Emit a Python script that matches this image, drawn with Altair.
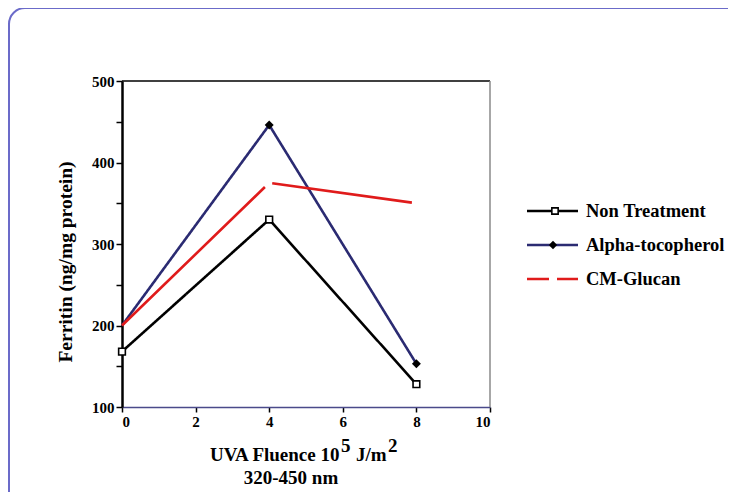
import altair as alt
import pandas as pd

series = ["Non Treatment", "Alpha-tocopherol", "CM-Glucan"]
fluence = [0, 4, 8]
non_treatment = [168, 330, 128]
alpha_toco = [200, 446, 153]
cm_glucan = [200, 375, 350]

x_ticks = list(range(0, 11))
y_ticks = [100, 150, 200, 250, 300, 350, 400, 450, 500]

colors = ["#000000", "#2b2b72", "#e01b1b"]
dashes = [[1, 0], [1, 0], [199, 9, 141, 40]]
legend_dashes = [[1, 0], [1, 0], [22, 8]]

rows = []
for name, vals in zip(series, [non_treatment, alpha_toco, cm_glucan]):
    for f, v in zip(fluence, vals):
        rows.append({"series": name, "fluence": f, "ferritin": v})
df = pd.DataFrame(rows)
one = pd.DataFrame({"a": [0]})

FONT = "'Liberation Serif', 'Times New Roman', serif"

xscale = alt.Scale(domain=[0, 10], nice=False, zero=False)
yscale = alt.Scale(domain=[100, 500], nice=False, zero=False)

xenc = alt.X(
    "fluence:Q", scale=xscale,
    axis=alt.Axis(
        values=x_ticks, labelExpr="datum.value % 2 === 0 ? datum.label : ''",
        labelFont=FONT, labelFontWeight="bold", labelFontSize=15, labelColor="black",
        tickColor="black", tickSize=5, tickWidth=1.5, domainColor="#4a4a8a",
        domainWidth=1.5, grid=False, title=None, labelPadding=2,
    ),
)
yenc = alt.Y(
    "ferritin:Q", scale=yscale,
    axis=alt.Axis(
        values=y_ticks, labelExpr="datum.value % 100 === 0 ? datum.label : ''",
        labelFont=FONT, labelFontWeight="bold", labelFontSize=15, labelColor="black",
        tickColor="black", tickSize=6, tickWidth=1.5, domainColor="black",
        domainWidth=2.5, grid=False, title=None, labelPadding=2,
    ),
)
xq = alt.X("fluence:Q", scale=xscale)
yq = alt.Y("ferritin:Q", scale=yscale)

border = alt.Chart(one).mark_rect(
    fillOpacity=0, stroke="#6b6bc9", strokeWidth=2, cornerRadius=16
).encode(x=alt.value(-113), x2=alt.value(640), y=alt.value(-73), y2=alt.value(450))

lines = alt.Chart(df).mark_line(strokeWidth=2.6).encode(
    x=xenc, y=yenc,
    color=alt.Color("series:N", scale=alt.Scale(domain=series, range=colors), legend=None),
    strokeDash=alt.StrokeDash("series:N", scale=alt.Scale(domain=series, range=dashes), legend=None),
    detail="series:N",
)

top_rule = alt.Chart(one).mark_rule(color="black", strokeWidth=1.5).encode(
    x=alt.XDatum(0, scale=xscale), x2=alt.X2Datum(10), y=alt.YDatum(500, scale=yscale))
right_rule = alt.Chart(one).mark_rule(color="#8a8a8a", strokeWidth=1.5).encode(
    x=alt.XDatum(10, scale=xscale), y=alt.YDatum(100, scale=yscale), y2=alt.Y2Datum(500))

nt_pts = alt.Chart(df).transform_filter(alt.datum.series == "Non Treatment").mark_point(
    shape="square", filled=True, fill="white", stroke="black", strokeWidth=1.6, size=45, opacity=1
).encode(x=xq, y=yq)
at_pts = alt.Chart(df).transform_filter(
    (alt.datum.series == "Alpha-tocopherol") & (alt.datum.fluence > 0)
).mark_point(shape="diamond", filled=True, color="black", size=80, opacity=1).encode(x=xq, y=yq)

layers = [border, top_rule, right_rule, lines, nt_pts, at_pts]

# legend
for i, name in enumerate(series):
    ry = 130 + 34 * i
    layers.append(alt.Chart(one).mark_rule(
        color=colors[i], strokeWidth=2.4, strokeDash=legend_dashes[i]
    ).encode(x=alt.value(405), x2=alt.value(456), y=alt.value(ry)))
    if i == 0:
        layers.append(alt.Chart(one).mark_point(
            shape="square", filled=True, fill="white", stroke="black", strokeWidth=1.6, size=40, opacity=1
        ).encode(x=alt.value(433), y=alt.value(ry)))
    elif i == 1:
        layers.append(alt.Chart(one).mark_point(
            shape="diamond", filled=True, color="black", size=70, opacity=1
        ).encode(x=alt.value(431), y=alt.value(ry)))
    layers.append(alt.Chart(one).mark_text(
        font=FONT, fontWeight="bold", fontSize=18.5, align="left", baseline="middle", color="black"
    ).encode(x=alt.value(464), y=alt.value(ry), text=alt.value(name)))

def txt(s, x, y, size=19, align="left", baseline="alphabetic", angle=0):
    kw = dict(font=FONT, fontWeight="bold", fontSize=size, align=align, baseline=baseline, color="black")
    if angle:
        kw["angle"] = angle
    return alt.Chart(one).mark_text(**kw).encode(x=alt.value(x), y=alt.value(y), text=alt.value(s))

layers += [
    txt("Ferritin (ng/mg protein)", -56, 181, size=19.5, align="center", baseline="middle", angle=270),
    txt("UVA Fluence 10", 88, 380),
    txt("5", 219, 371),
    txt("J/m", 234, 380),
    txt("2", 266, 371),
    txt("320-450 nm", 169, 403, align="center"),
]

chart = alt.layer(*layers).properties(
    width=368, height=326,
    autosize=alt.AutoSizeParams(type="none"),
    padding={"left": 114, "top": 73, "right": 238, "bottom": 85},
).configure_view(stroke=None)

chart.save("out.html", embed_options={"renderer": "svg", "actions": False})
